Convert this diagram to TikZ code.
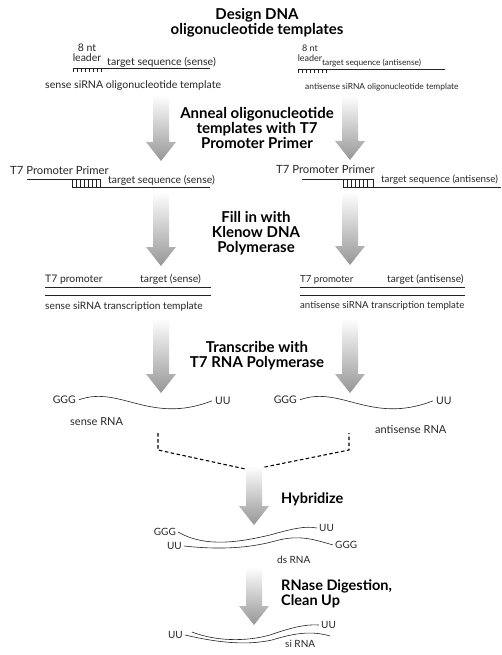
\documentclass[tikz,border=0pt]{standalone}
\usepackage{fontspec}
\setmainfont{Lato}
\usepackage{tikz}
\usetikzlibrary{calc,positioning}
\definecolor{arrowgray}{RGB}{150,150,150}
\definecolor{strandgray}{RGB}{35,35,35}

% shaded block arrow from a top coordinate down to a tip coordinate
\newcommand{\grayarrow}[2]{%
  \shade[top color=white, bottom color=arrowgray]
    ($(#1)+(-8,0)$) -- ($(#1)+(8,0)$) -- ($(#2)+(8,-19)$) -- ($(#2)+(15,-19)$)
    -- (#2) -- ($(#2)+(-15,-19)$) -- ($(#2)+(-8,-19)$) -- cycle;}

\begin{document}
\begin{tikzpicture}[x=1pt, y=-1pt,
    steptxt/.style={font=\fontsize{#1}{15}\selectfont\bfseries, align=center, inner sep=0pt},
    steptxt/.default=15,
    lbl/.style={font=\fontsize{#1}{#1}\selectfont, inner sep=0pt, text=black!85},
    lbl/.default=10.6,
    leadtxt/.style={font=\fontsize{#1}{10}\selectfont, inner sep=0pt, align=center, text=black!85},
    leadtxt/.default=10.5,
    strand/.style={line width=0.6pt, draw=strandgray},
    dsh/.style={line width=1.1pt, dash pattern=on 3.5pt off 2.5pt},
  ]
  \useasboundingbox (0,0) rectangle (501,655);

  % step 1: oligonucleotide templates
  \node[steptxt] (design) at (257,23) {Design DNA\\oligonucleotide templates};

  \coordinate (oliLa) at (73,68);
  \coordinate (oliLb) at (210,68);
  \draw[strand] (oliLa) -- (oliLb);
  \foreach \i in {0,...,7}
    \draw[strand] ($(oliLa)+(\i*4,0)$) -- ++(0,4);
  \node[leadtxt, anchor=south] (leadL) at (87,62) {8 nt\\leader};
  \node[lbl, anchor=mid west] (tgtL) at (107,63) {target sequence (sense)};
  \node[lbl, anchor=mid west] (oliL) at (45,86) {sense siRNA oligonucleotide template};

  \coordinate (oliRa) at (298,69);
  \coordinate (oliRb) at (445,69);
  \draw[strand] (oliRa) -- (oliRb);
  \foreach \i in {0,...,7}
    \draw[strand] ($(oliRa)+(\i*4,0)$) -- ++(0,4);
  \node[leadtxt=9, anchor=south] (leadR) at (310,62) {8 nt\\leader};
  \node[lbl=8.3, anchor=mid west] (tgtR) at (322,63) {target sequence (antisense)};
  \node[lbl=8.4, anchor=mid west] (oliR) at (305,87) {antisense siRNA oligonucleotide template};

  % step 2: anneal primer
  \coordinate (a1Ltop) at (161,95);  \coordinate (a1Ltip) at (161,161);
  \coordinate (a1Rtop) at (350,95);  \coordinate (a1Rtip) at (350,160);
  \grayarrow{a1Ltop}{a1Ltip}
  \grayarrow{a1Rtop}{a1Rtip}
  \node[steptxt] (anneal) at (257,127.5) {Anneal oligonucleotide\\templates with T7\\Promoter Primer};

  \node[lbl=11.3, anchor=mid west] (primL) at (10,172) {T7 Promoter Primer};
  \draw[strand] (27,179) -- (100,179);
  \draw[strand] (72,179) rectangle (100,187);
  \foreach \x in {76,80,...,96}
    \draw[strand] (\x,179) -- (\x,187);
  \draw[strand] (72,187) -- (210,187);
  \node[lbl=10.4, anchor=mid west] (annL) at (108,181) {target sequence (sense)};

  \node[lbl=11.3, anchor=mid west] (primR) at (276,171) {T7 Promoter Primer};
  \draw[strand] (302,179) -- (373,179);
  \draw[strand] (343,179) rectangle (373,187);
  \foreach \x in {347,351,...,369}
    \draw[strand] (\x,179) -- (\x,187);
  \draw[strand] (343,187) -- (501,187);
  \node[lbl=9.8, anchor=mid west] (annR) at (381,180) {target sequence (antisense)};

  % step 3: fill in
  \coordinate (a2Ltop) at (161,192);  \coordinate (a2Ltip) at (161,266);
  \coordinate (a2Rtop) at (350,192);  \coordinate (a2Rtip) at (350,265);
  \grayarrow{a2Ltop}{a2Ltip}
  \grayarrow{a2Rtop}{a2Rtip}
  \node[steptxt] (fill) at (256,233) {Fill in with\\Klenow DNA\\Polymerase};

  \node[lbl=10.4, anchor=mid west] (promL) at (45,280) {T7 promoter};
  \node[lbl=10.4, anchor=mid west] (tsL) at (140,280) {target (sense)};
  \draw[strand] (45,287) -- (211,287);
  \draw[strand] (45,295) -- (211,295);
  \node[lbl=10.2, anchor=mid west] (trL) at (45,307) {sense siRNA transcription template};

  \node[lbl=9.6, anchor=mid west] (promR) at (300,280) {T7 promoter};
  \node[lbl=10.2, anchor=mid west] (tsR) at (387,280) {target (antisense)};
  \draw[strand] (300,287) -- (465,287);
  \draw[strand] (300,295) -- (465,295);
  \node[lbl=9.6, anchor=mid west] (trR) at (300,306) {antisense siRNA transcription template};

  % step 4: transcribe
  \coordinate (a3Ltop) at (161,318);  \coordinate (a3Ltip) at (161,393);
  \coordinate (a3Rtop) at (350,318);  \coordinate (a3Rtip) at (350,393);
  \grayarrow{a3Ltop}{a3Ltip}
  \grayarrow{a3Rtop}{a3Rtip}
  \node[steptxt] (transcribe) at (257,355.5) {Transcribe with\\T7 RNA Polymerase};

  \node[lbl=10.5, anchor=mid east] (gggL) at (76,401) {GGG};
  \node[lbl=10.5, anchor=mid west] (uuL) at (215,402) {UU};
  \draw[strand] ([xshift=3pt]gggL.east) .. controls (120,385) and (150,425) .. ([xshift=-3pt]uuL.west);
  \node[lbl=11, anchor=mid west] (rnaL) at (70,423) {sense RNA};

  \node[lbl=10.5, anchor=mid east] (gggR) at (297,401) {GGG};
  \node[lbl=10.5, anchor=mid west] (uuR) at (436,402) {UU};
  \draw[strand] ([xshift=3pt]gggR.east) .. controls (341,385) and (371,425) .. ([xshift=-3pt]uuR.west);
  \node[lbl=11, anchor=mid west] (rnaR) at (375,431) {antisense RNA};

  % dashed merge
  \coordinate (dL) at (158,433);  \coordinate (dLk) at (158,450);
  \coordinate (dR) at (349,433);  \coordinate (dRk) at (349,450);
  \coordinate (merge) at (250,470);
  \draw[dsh] (dL) -- (dLk) -- (merge) -- (dRk) -- (dR);

  % hybridize
  \coordinate (a4top) at (254,466);  \coordinate (a4tip) at (254,525);
  \grayarrow{a4top}{a4tip}
  \node[steptxt=14.5, anchor=west] (hyb) at (281,499) {Hybridize};

  \node[lbl=10, anchor=mid east] (gggT) at (176,533) {GGG};
  \node[lbl=10, anchor=mid west] (uuT) at (319,529) {UU};
  \draw[strand] ([xshift=2pt]gggT.east) .. controls (205,548) and (240,542) .. (270,535)
    .. controls (295,528) and (305,526) .. ([xshift=-2pt]uuT.west);
  \node[lbl=10, anchor=mid east] (uuB) at (182,547) {UU};
  \node[lbl=10, anchor=mid west] (gggB) at (335,546) {GGG};
  \draw[strand] ([xshift=2pt]uuB.east) .. controls (220,550) and (250,548) .. (275,541)
    .. controls (300,534) and (315,540) .. ([xshift=-2pt]gggB.west);
  \node[lbl=10, anchor=mid west] (dsrna) at (277,561) {ds RNA};

  % RNase digestion
  \coordinate (a5top) at (254,567);  \coordinate (a5tip) at (254,625);
  \grayarrow{a5top}{a5tip}
  \node[steptxt=14.5, anchor=west, align=left] (rnase) at (281,594) {RNase Digestion,\\Clean Up};

  \node[lbl=10, anchor=mid east] (uuS) at (183,636) {UU};
  \node[lbl=10, anchor=mid west] (uuS2) at (321,626) {UU};
  \coordinate (siTop) at (192,632);
  \coordinate (siBot) at (330,636);
  \draw[strand] (siTop) .. controls (215,641) and (245,642) .. (270,635)
    .. controls (290,628) and (305,624) .. ([xshift=-2pt]uuS2.west);
  \draw[strand] ([xshift=2pt]uuS.east) .. controls (215,642) and (245,646) .. (272,640)
    .. controls (292,634) and (310,630) .. (siBot);
  \node[lbl=10, anchor=mid west] (sirna) at (285,645) {si RNA};
\end{tikzpicture}
\end{document}
